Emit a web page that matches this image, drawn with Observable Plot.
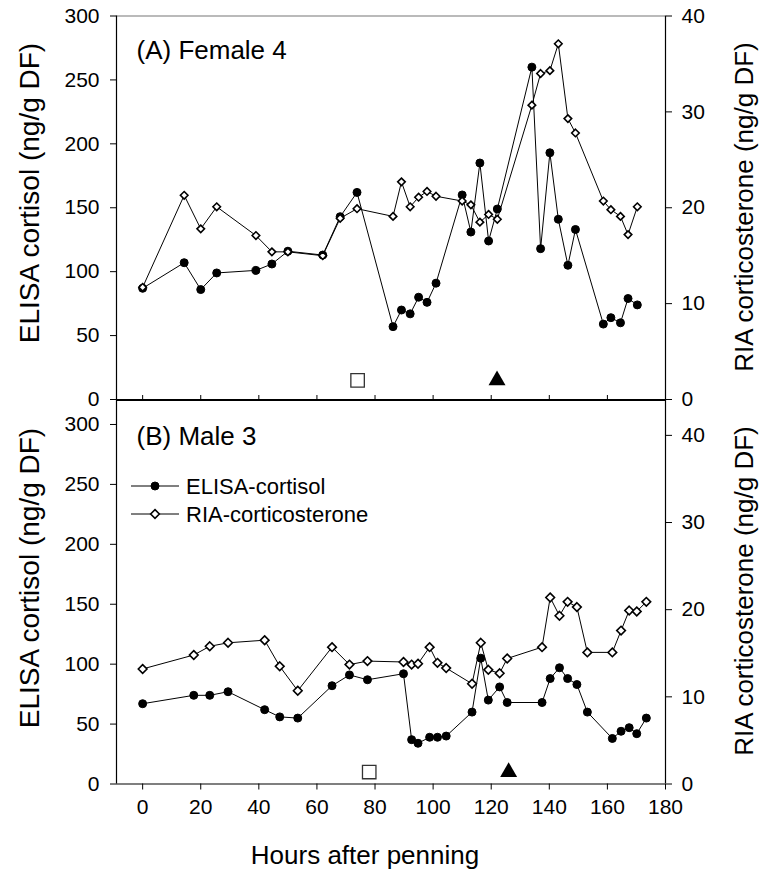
<!DOCTYPE html>
<html>
<head>
<meta charset="utf-8">
<script src="https://cdn.jsdelivr.net/npm/d3@7"></script>
<script src="https://cdn.jsdelivr.net/npm/@observablehq/plot@0.6"></script>
<style>
  body { margin: 0; background: #fff; }
  #fig { position: relative; width: 759px; height: 880px; background: #fff;
         font-family: "Liberation Sans", Arial, Helvetica, sans-serif; }
  #fig svg { position: absolute; left: 0; }
</style>
</head>
<body>
<div id="fig"></div>
<script>
// ---- Panel A: Female 4 ----
const hoursA = [0, 14.3, 20, 25.5, 39, 44.5, 50, 62, 68, 73.8, 86.2, 89.1, 92.1, 95, 97.9, 101,
                110, 113, 116.1, 119.1, 122.1, 134, 137, 140.2, 143.1, 146.4, 149, 158.6, 161.2, 164.5, 167.1, 170.3];
const elisaA = [87, 107, 86, 99, 101, 106, 116, 113, 143, 162, 57, 70, 67, 80, 76, 91,
                160, 131, 185, 124, 149, 260, 118, 193, 141, 105, 133, 59, 64, 60, 79, 74];
const riaA   = [11.7, 21.3, 17.8, 20.1, 17.1, 15.4, 15.4, 15.0, 18.9, 19.9, 19.1, 22.7, 20.1, 21.1, 21.7, 21.2,
                20.7, 20.3, 18.5, 19.3, 18.8, 30.7, 34.0, 34.3, 37.1, 29.3, 27.8, 20.7, 19.8, 19.1, 17.2, 20.1];

// ---- Panel B: Male 3 ----
const hoursB = [0, 17.6, 23.1, 29.4, 42, 47.2, 53.4, 65.2, 71.2, 77.4, 89.8, 92.6, 94.8, 98.8, 101.5, 104.5,
                113.4, 116.4, 119, 122.9, 125.5, 137.5, 140.3, 143.5, 146.3, 149.5, 153.1, 161.7, 164.7, 167.5, 170.1, 173.4];
const elisaB = [67, 74, 74, 77, 62, 56, 55, 82, 91, 87, 92, 37, 34, 39, 39, 40,
                60, 105, 70, 81, 68, 68, 88, 97, 88, 83, 60, 38, 44, 47, 42, 55];
const riaB   = [13.2, 14.8, 15.8, 16.2, 16.5, 13.5, 10.7, 15.7, 13.7, 14.1, 14.0, 13.7, 13.8, 15.7, 13.9, 13.3,
                11.5, 16.2, 13.1, 12.7, 14.4, 15.7, 21.4, 19.3, 20.9, 20.3, 15.1, 15.1, 17.6, 19.9, 19.8, 20.9];

// Event markers (open square, filled triangle) along the time axis
const eventHoursA = [74, 122];
const eventHoursB = [78, 126];
const eventLevelA = 15;   // ELISA units
const eventLevelB = 10;

// Axis ticks and labels
const hourTicks  = [0, 20, 40, 60, 80, 100, 120, 140, 160, 180];
const leftTicks  = [0, 50, 100, 150, 200, 250, 300];
const rightTicks = [0, 10, 20, 30, 40];
const titles = ["(A) Female 4", "(B) Male 3"];
const seriesNames = ["ELISA-cortisol", "RIA-corticosterone"];
const leftTitle = "ELISA cortisol (ng/g DF)";
const rightTitle = "RIA corticosterone (ng/g DF)";
const xTitle = "Hours after penning";

const FONT = '"Liberation Sans", Arial, Helvetica, sans-serif';
const W = 759, ML = 116, MR = 94;
const X_DOMAIN = [-9, 180];
const fig = document.getElementById("fig");

function panel(o) {
  const k = o.yMax / o.rMax;            // right-axis units -> left-axis units
  const rows = o.hours.map((h, i) => ({h, elisa: o.elisa[i], ria: o.ria[i] * k}));
  const ev = o.eventHours.map(h => ({h, v: o.eventLevel}));
  const marks = [
    Plot.axisY(leftTicks, {anchor: "left", tickSize: 6, tickPadding: 11, label: null,
                           fontSize: 21, stroke: "black"}),
    Plot.axisY(rightTicks.map(t => t * k), {anchor: "right", tickSize: 6, tickPadding: 10, label: null,
                           fontSize: 21, tickFormat: d => Math.round(d / k)}),
    Plot.ruleY([o.yMax], {stroke: o.topStroke, strokeWidth: 1.2}),
    Plot.ruleY([0], {stroke: "black", strokeWidth: 1.2}),
    Plot.ruleX([X_DOMAIN[0]], {stroke: "black", strokeWidth: 1.2}),
    Plot.ruleX([X_DOMAIN[1]], {stroke: "black", strokeWidth: 1.2}),
    Plot.line(rows, {x: "h", y: "elisa", stroke: "black", strokeWidth: 1}),
    Plot.line(rows, {x: "h", y: "ria", stroke: "black", strokeWidth: 1}),
    Plot.dot(rows, {x: "h", y: "elisa", r: 4, fill: "black", stroke: "black", strokeWidth: 1}),
    Plot.dot(rows, {x: "h", y: "ria", symbol: "diamond2", r: o.diamondR, fill: "white",
                    stroke: "black", strokeWidth: 1.6}),
    Plot.dot([ev[0]], {x: "h", y: "v", symbol: "square", r: 7.6, fill: "white",
                       stroke: "#333", strokeWidth: 1.3}),
    Plot.dot([ev[1]], {x: "h", y: "v", symbol: "triangle", r: 6.3, fill: "black", stroke: "none"})
  ];
  if (o.bottomAxis) {
    marks.push(
      Plot.axisX(hourTicks, {anchor: "top", tickSize: 6, tickFormat: () => "", label: null}),
      Plot.axisX(hourTicks, {anchor: "bottom", tickSize: 6, tickPadding: 9, label: null, fontSize: 21})
    );
  }
  const svg = Plot.plot({
    width: W, height: o.height,
    marginTop: o.marginTop, marginBottom: o.marginBottom, marginLeft: ML, marginRight: MR,
    style: {background: "transparent", overflow: "visible", fontFamily: FONT, color: "black"},
    x: {domain: X_DOMAIN, axis: o.bottomAxis ? undefined : null},
    y: {domain: [0, o.yMax]},
    marks
  });
  svg.style.top = o.top + "px";
  fig.appendChild(svg);
  return svg;
}

panel({hours: hoursA, elisa: elisaA, ria: riaA, yMax: 300, rMax: 40,
       eventHours: eventHoursA, eventLevel: eventLevelA, diamondR: 3.4,
       top: 0, height: 400, marginTop: 15.5, marginBottom: 1, topStroke: "#777", bottomAxis: false});

const svgB = panel({hours: hoursB, elisa: elisaB, ria: riaB, yMax: 320, rMax: 44,
       eventHours: eventHoursB, eventLevel: eventLevelB, diamondR: 3.9,
       top: 390, height: 490, marginTop: 10, marginBottom: 96.5, topStroke: "black", bottomAxis: true});

// Legend inside panel B
const lg = d3.select(svgB).append("g").attr("font-family", FONT).attr("font-size", 22)
  .attr("text-anchor", "start").attr("fill", "black");
[
  {y: 96, sym: d3.symbolCircle, size: Math.PI * 16, fill: "black", sw: 1},
  {y: 124, sym: d3.symbolDiamond2, size: Math.PI * 3.9 * 3.9, fill: "white", sw: 1.6}
].forEach((row, i) => {
  lg.append("line").attr("x1", 131).attr("x2", 179).attr("y1", row.y).attr("y2", row.y)
    .attr("stroke", "black").attr("stroke-width", 1);
  lg.append("path").attr("d", d3.symbol(row.sym, row.size)())
    .attr("transform", `translate(155,${row.y})`)
    .attr("fill", row.fill).attr("stroke", "black").attr("stroke-width", row.sw);
  lg.append("text").attr("x", 186).attr("y", row.y).attr("dy", "0.35em")
    .attr("text-anchor", "start").text(seriesNames[i]);
});

// Titles and axis labels
const ov = d3.select(fig).append("svg").attr("width", W).attr("height", 880)
  .style("top", "0px").attr("font-family", FONT).attr("fill", "black");
ov.append("text").attr("x", 136.5).attr("y", 59).attr("font-size", 26).text(titles[0]);
ov.append("text").attr("x", 136.5).attr("y", 445).attr("font-size", 26).text(titles[1]);
[[193, 207], [578, 591]].forEach(([cl, cr]) => {
  ov.append("text").attr("transform", `translate(29,${cl}) rotate(-90)`)
    .attr("text-anchor", "middle").attr("dy", "0.35em").attr("font-size", 28).text(leftTitle);
  ov.append("text").attr("transform", `translate(744,${cr}) rotate(-90)`)
    .attr("text-anchor", "middle").attr("dy", "0.35em").attr("font-size", 26).text(rightTitle);
});
ov.append("text").attr("x", 365).attr("y", 864).attr("text-anchor", "middle")
  .attr("font-size", 26).text(xTitle);
</script>
</body>
</html>
